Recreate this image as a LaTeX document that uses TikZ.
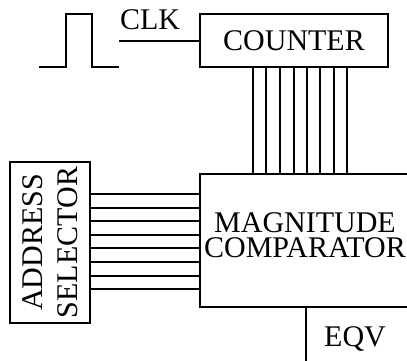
\documentclass[tikz,border=0pt]{standalone}
\usepackage{fontspec}
\setmainfont{Liberation Serif}
\begin{document}
\begin{tikzpicture}[x=1pt,y=-1pt,
  blk/.style={draw,line width=1.5pt,inner sep=0pt,align=center,font=\fontsize{30}{34}\selectfont},
  wire/.style={line width=1.5pt},
  lbl/.style={inner sep=0pt,align=center,font=\fontsize{30}{34}\selectfont}]
\useasboundingbox (0,0) rectangle (407,360);
\begin{scope}
\clip (0,0) rectangle (407,360);
\node[blk,minimum width=188pt,minimum height=53pt] (counter) at (294,40.5) {COUNTER};
\node[blk,minimum width=210pt,minimum height=133pt] (comp) at (305,240.5) {};
\node[lbl,font=\fontsize{30}{25.5}\selectfont] (comptext) at (305,235) {MAGNITUDE\\COMPARATOR};
\node[blk,rotate=90,minimum width=161pt,minimum height=80pt,font=\fontsize{30}{35}\selectfont] (addr) at (50,242.5) {ADDRESS\\SELECTOR};
\coordinate (p0) at (39,67);
\coordinate (clk) at (119,41);
\draw[wire] (p0) -- (66,67) -- (66,14) -- (92,14) -- (92,67) -- (119,67);
\draw[wire] (clk) -- (clk -| counter.west);
\node[lbl] (clklbl) at (150,20) {CLK};
\foreach \x in {253,266,280,294,307,320,334,347}
  \draw[wire] (counter.south -| \x,0) -- (comp.north -| \x,0);
\foreach \y in {194,208,221,235,248,262,276,289}
  \draw[wire] (addr.south |- 0,\y) -- (comp.west |- 0,\y);
\coordinate (eqvend) at (306,362);
\draw[wire] (comp.south -| eqvend) -- (eqvend);
\node[lbl] (eqv) at (355,339) {EQV};
\end{scope}
\end{tikzpicture}
\end{document}
